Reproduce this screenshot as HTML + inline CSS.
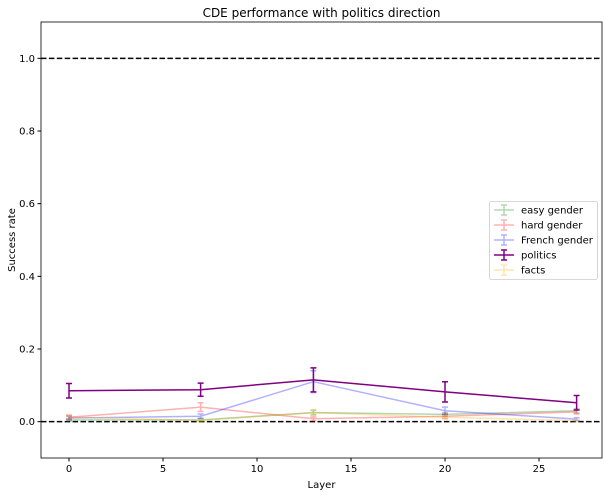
<!DOCTYPE html>
<html><head><meta charset="utf-8"><style>
body{margin:0;background:#fff;font-family:"Liberation Sans","DejaVu Sans",sans-serif}
svg text{font-family:"DejaVu Sans","Liberation Sans",sans-serif;font-size:10px;fill:#000}
</style></head><body>
<svg id="c" width="609" height="496" xmlns="http://www.w3.org/2000/svg"></svg>
<script>
const layers=[0,7,13,20,27];
const easy=[0.005,0.005,0.025,0.02,0.03];
const easyErr=[0.004,0.004,0.006,0.005,0.006];
const hard=[0.012,0.04,0.008,0.015,0.027];
const hardErr=[0.006,0.012,0.005,0.006,0.006];
const french=[0.01,0.015,0.11,0.03,0.007];
const frenchErr=[0.005,0.006,0.03,0.01,0.004];
const politics=[0.085,0.088,0.115,0.082,0.052];
const politicsErr=[0.02,0.018,0.033,0.028,0.02];
const facts=[0.013,0.003,0.025,0.012,0.003];
const factsErr=[0.005,0.003,0.008,0.005,0.003];
const xTicks=[0,5,10,15,20,25];
const yTicks=[0.0,0.2,0.4,0.6,0.8,1.0];
const L=41,R=602,T=22,B=458,xmin=-1.49,xmax=28.35,ymin=-0.1,ymax=1.1;
const X=v=>L+(v-xmin)/(xmax-xmin)*(R-L);
const Y=v=>B-(v-ymin)/(ymax-ymin)*(B-T);
const s=document.getElementById('c');const NS='http://www.w3.org/2000/svg';
function el(t,a,p){const e=document.createElementNS(NS,t);for(const k in a)e.setAttribute(k,a[k]);(p||s).appendChild(e);return e;}
let t=el('text',{x:(L+R)/2,y:17,'text-anchor':'middle','font-size':'12'});t.textContent='CDE performance with politics direction';t.style.fontSize='12px';

[1,0].forEach(v=>{const l=el('line',{x1:L,x2:R,y1:Y(v),y2:Y(v),stroke:'#000','stroke-width':1.5,'stroke-dasharray':'5.5,2.4'});
});
const series=[['easy gender',easy,easyErr,'green',0.3,1.5],['hard gender',hard,hardErr,'red',0.3,1.5],['French gender',french,frenchErr,'blue',0.3,1.5],['politics',politics,politicsErr,'purple',1,1.5],['facts',facts,factsErr,'orange',0.3,1.5]];
series.forEach(([name,v,e,c,op,w])=>{
 const g=el('g',{opacity:op});
 
 el('polyline',{points:layers.map((x,i)=>X(x)+','+Y(v[i])).join(' '),fill:'none',stroke:c,'stroke-width':w},g);
 layers.forEach((x,i)=>{const cx=X(x),y1=Y(v[i]-e[i]),y2=Y(v[i]+e[i]);
  const b=el('path',{d:`M${cx},${y1}V${y2}M${cx-3},${y1}H${cx+3}M${cx-3},${y2}H${cx+3}`,stroke:c,'stroke-width':1.5,fill:'none'},g);
  });
});
const f=el('rect',{x:L,y:T,width:R-L,height:B-T,fill:'none',stroke:'#000','stroke-width':0.8});

xTicks.forEach(v=>{el('line',{x1:X(v),x2:X(v),y1:B,y2:B+3.5,stroke:'#000'});const tx=el('text',{x:X(v),y:B+14,'text-anchor':'middle'});tx.textContent=v;
});
yTicks.forEach(v=>{el('line',{x1:L-3.5,x2:L,y1:Y(v),y2:Y(v),stroke:'#000'});const tx=el('text',{x:L-6,y:Y(v)+3.5,'text-anchor':'end'});tx.textContent=v.toFixed(1);
});
let xl=el('text',{x:(L+R)/2,y:488,'text-anchor':'middle'});xl.textContent='Layer';

let yl=el('text',{x:15,y:(T+B)/2,'text-anchor':'middle',transform:`rotate(-90 15 ${(T+B)/2})`});yl.textContent='Success rate';

const lg=el('g',{});
el('rect',{x:489.5,y:201.5,width:108,height:78,rx:2,fill:'#fff',stroke:'#ccc','stroke-width':0.8},lg);
series.forEach(([name,v,e,c,op],i)=>{const y=210+i*15;const g=el('g',{},lg);
 
 el('path',{d:`M494,${y}H514M504,${y-5}V${y+5}M501,${y-5}H507M501,${y+5}H507`,stroke:c,'stroke-width':1.5,opacity:op,fill:'none'},g);
 const tx=el('text',{x:521,y:y+3.5},g);tx.textContent=name;});
</script>
</body></html>
